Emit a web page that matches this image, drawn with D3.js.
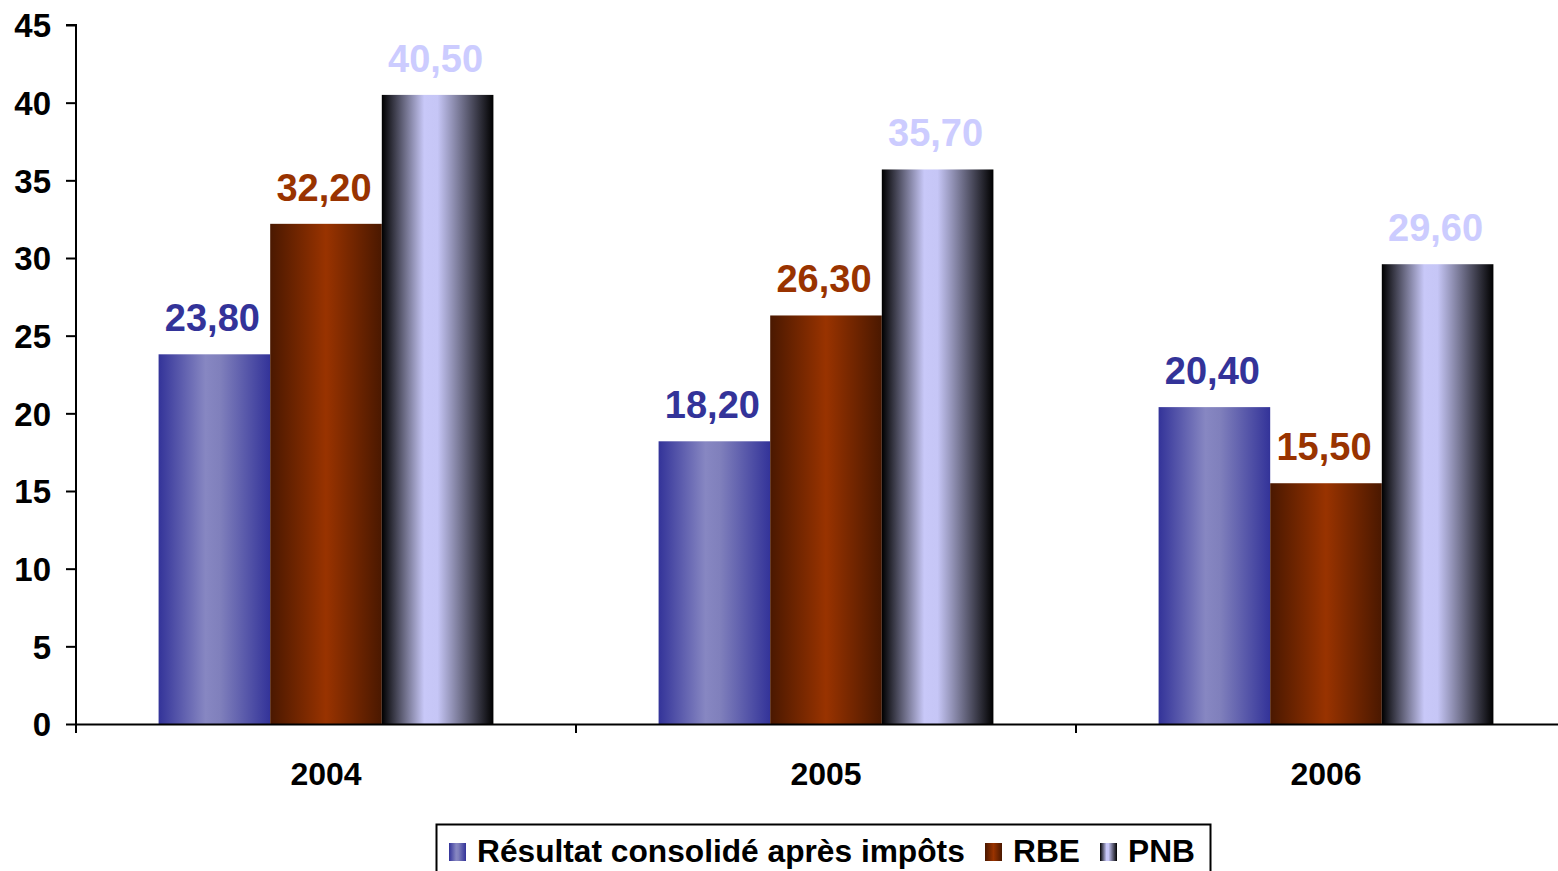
<!DOCTYPE html>
<html>
<head>
<meta charset="utf-8">
<script src="https://cdn.jsdelivr.net/npm/d3@7"></script>
<style>
  html, body { margin: 0; padding: 0; background: #fff; overflow: hidden; }
  svg { display: block; font-family: "Liberation Sans", Arial, sans-serif; }
</style>
</head>
<body>
<svg id="chart" width="1558" height="871"></svg>
<script>
// Years on the category axis
const years = ["2004", "2005", "2006"];
// Series names, in legend order
const seriesNames = ["Résultat consolidé après impôts", "RBE", "PNB"];
// Values per series, one per year
const resultat = [23.80, 18.20, 20.40];
const rbe = [32.20, 26.30, 15.50];
const pnb = [40.50, 35.70, 29.60];
// Value-axis ticks
const yTicks = [0, 5, 10, 15, 20, 25, 30, 35, 40, 45];

const seriesValues = [resultat, rbe, pnb];
const labelColors = ["#333399", "#993300", "#CCCCFF"];
// Gradient stops across each bar: [offset, colour]
const gradients = [
  [[0, "#333399"], [0.42, "#8787C2"], [0.55, "#8080BC"], [1, "#333399"]],
  [[0, "#4A1800"], [0.5, "#993300"], [1, "#4A1800"]],
  [[0, "#000000"], [0.38, "#C8C8F8"], [0.5, "#C6C6F6"], [1, "#000000"]]
];

const svg = d3.select("#chart");
const plotLeft = 76, plotTop = 25, plotBottom = 724;
const bandW = 500;

const x = d3.scaleBand().domain(years).range([plotLeft, plotLeft + bandW * years.length]).paddingInner(0).paddingOuter(0);
const inner = d3.scaleBand().domain(d3.range(seriesNames.length)).range([0, x.bandwidth()]).paddingOuter(0.74).paddingInner(0);
const y = d3.scaleLinear().domain([0, 45]).range([plotBottom, plotTop]);

const defs = svg.append("defs");
gradients.forEach((stops, i) => {
  const g = defs.append("linearGradient").attr("id", "grad" + i)
    .attr("x1", "0%").attr("x2", "100%").attr("y1", "0%").attr("y2", "0%");
  stops.forEach(([o, c]) => g.append("stop").attr("offset", o).attr("stop-color", c));
});

// Bars
const groups = svg.append("g").selectAll("g").data(years).join("g")
  .attr("transform", d => `translate(${x(d)},0)`);

groups.each(function (yr, yi) {
  const g = d3.select(this);
  seriesValues.forEach((vals, si) => {
    const v = vals[yi];
    g.append("rect")
      .attr("x", inner(si))
      .attr("y", y(v))
      .attr("width", inner.bandwidth())
      .attr("height", y(0) - y(v))
      .attr("fill", `url(#grad${si})`);
    g.append("text")
      .attr("x", inner(si) + inner.bandwidth() / 2 - 2)
      .attr("y", y(v) - 23)
      .attr("text-anchor", "middle")
      .attr("font-size", 38)
      .attr("font-weight", "bold")
      .attr("fill", labelColors[si])
      .text(d3.format(".2f")(v).replace(".", ","));
  });
});

// Y axis
const yAxis = d3.axisLeft(y).tickValues(yTicks).tickSize(10).tickPadding(15).tickFormat(d3.format("d"));
const ya = svg.append("g").attr("transform", `translate(${plotLeft},0)`).call(yAxis);
ya.select(".domain").attr("stroke", "#000").attr("stroke-width", 2).attr("d", `M-10,${plotTop}H0V${plotBottom + 8}`);
ya.selectAll(".tick line").attr("stroke", "#000").attr("stroke-width", 2);
ya.selectAll(".tick text").attr("font-size", 33).attr("font-weight", "bold").attr("fill", "#000")
  .attr("font-family", "'Liberation Sans', Arial, sans-serif").attr("dy", "0.36em");

// X axis
const xAxis = d3.axisBottom(x).tickSize(0).tickPadding(0);
const xa = svg.append("g").attr("transform", `translate(0,${plotBottom})`).call(xAxis);
xa.select(".domain").attr("stroke", "#000").attr("stroke-width", 2);
xa.selectAll(".tick text").attr("font-size", 32).attr("font-weight", "bold").attr("fill", "#000")
  .attr("font-family", "'Liberation Sans', Arial, sans-serif").attr("dy", 0).attr("y", 61);
// Boundary ticks between years
xa.append("g").selectAll("line").data(years).join("line")
  .attr("x1", d => x(d)).attr("x2", d => x(d)).attr("y1", 0).attr("y2", 9)
  .attr("stroke", "#000").attr("stroke-width", 2);

// Legend
const legend = svg.append("g");
legend.append("rect").attr("x", 436.5).attr("y", 824.5).attr("width", 774).attr("height", 60)
  .attr("fill", "#fff").attr("stroke", "#000").attr("stroke-width", 2);
const legendX = [449, 985, 1100];
seriesNames.forEach((name, i) => {
  legend.append("rect").attr("x", legendX[i]).attr("y", 843).attr("width", 17).attr("height", 18)
    .attr("fill", `url(#grad${i})`);
  legend.append("text").attr("x", legendX[i] + 28).attr("y", 862)
    .attr("font-size", 31.7).attr("font-weight", "bold").attr("fill", "#000")
    .text(name);
});
</script>
</body>
</html>
